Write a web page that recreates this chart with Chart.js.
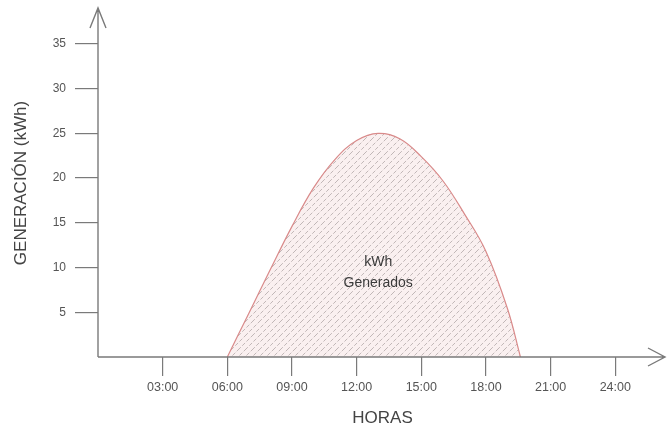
<!DOCTYPE html>
<html>
<head>
<meta charset="utf-8">
<script src="https://cdn.jsdelivr.net/npm/chart.js@4"></script>
<style>
  html, body { margin: 0; padding: 0; background: #fff; }
  #wrap { width: 667px; height: 433px; }
</style>
</head>
<body>
<div id="wrap"><canvas id="mainChart"></canvas></div>
<script>
// Hours of the day and generated energy (kWh)
const hours = [6, 7, 8, 9, 10, 11, 12, 13, 14, 15, 16, 17, 18, 19, 19.6];
const kwh = [0, 4.9, 9.8, 14.6, 18.9, 22.1, 24.2, 25, 24.4, 22.4, 19.7, 16.0, 11.8, 5.4, 0];

const yTicks = [5, 10, 15, 20, 25, 30, 35];
const xTicks = [3, 6, 9, 12, 15, 18, 21, 24];
const xTickLabels = ['03:00', '06:00', '09:00', '12:00', '15:00', '18:00', '21:00', '24:00'];

const areaLabel = ['kWh', 'Generados'];
const areaLabelAt = { x: 13, y: 9.5 };

const FONT = "'Liberation Sans', Arial, sans-serif";
const AXIS_COLOR = '#7a7a7a';

// hatch pattern for the area
function makeHatch() {
  const c = document.createElement('canvas');
  c.width = 14; c.height = 14;
  const g = c.getContext('2d');
  g.fillStyle = 'rgba(246, 226, 226, 0.5)';
  g.fillRect(0, 0, 14, 14);
  g.strokeStyle = 'rgba(130, 120, 120, 0.6)';
  g.lineWidth = 0.8;
  g.setLineDash([4, 2]);
  g.beginPath();
  for (let o = -14; o <= 14; o += 7) {
    g.moveTo(o, 14);
    g.lineTo(o + 14, 0);
  }
  g.stroke();
  return g.createPattern(c, 'repeat');
}

// axis lines with open arrowheads + text inside the area
const decorations = {
  id: 'decorations',
  afterDatasetsDraw(chart) {
    const { ctx, chartArea, scales } = chart;
    const x0 = scales.x.getPixelForValue(0);
    const y0 = scales.y.getPixelForValue(0);
    ctx.save();
    ctx.strokeStyle = AXIS_COLOR;
    ctx.lineWidth = 1.4;
    ctx.beginPath();
    ctx.moveTo(x0, y0);
    ctx.lineTo(x0, chartArea.top - 1);
    ctx.moveTo(x0, y0);
    ctx.lineTo(chartArea.right - 2, y0);
    // y arrow
    ctx.moveTo(x0 - 8, chartArea.top + 19);
    ctx.lineTo(x0, chartArea.top - 1);
    ctx.lineTo(x0 + 8, chartArea.top + 19);
    // x arrow
    ctx.moveTo(chartArea.right - 19, y0 - 9);
    ctx.lineTo(chartArea.right - 2, y0);
    ctx.lineTo(chartArea.right - 19, y0 + 9);
    ctx.stroke();

    ctx.fillStyle = '#3a3a3a';
    ctx.font = '14px ' + FONT;
    ctx.textAlign = 'center';
    ctx.textBaseline = 'middle';
    const lx = scales.x.getPixelForValue(areaLabelAt.x);
    const ly = scales.y.getPixelForValue(areaLabelAt.y);
    ctx.fillText(areaLabel[0], lx, ly - 10);
    ctx.fillText(areaLabel[1], lx, ly + 11);
    ctx.restore();
  }
};

const ctx = document.getElementById('mainChart').getContext('2d');

new Chart(ctx, {
  type: 'line',
  data: {
    datasets: [{
      data: hours.map((h, i) => ({ x: h, y: kwh[i] })),
      borderColor: '#d98a8a',
      borderWidth: 1.2,
      backgroundColor: makeHatch(),
      fill: 'origin',
      pointRadius: 0,
      tension: 0.4
    }]
  },
  options: {
    responsive: true,
    maintainAspectRatio: false,
    animation: false,
    layout: { padding: { top: 9, right: 0, left: 0, bottom: 0 } },
    plugins: {
      legend: { display: false },
      tooltip: { enabled: false }
    },
    scales: {
      x: {
        type: 'linear',
        min: 0,
        max: 26.4,
        afterFit: s => { s.height = 76; s.paddingLeft = 0; s.paddingRight = 0; },
        afterBuildTicks: s => { s.ticks = xTicks.map(v => ({ value: v })); },
        border: { display: false },
        grid: {
          drawOnChartArea: false,
          drawTicks: true,
          tickLength: 19,
          color: AXIS_COLOR,
          lineWidth: 1.2
        },
        ticks: {
          padding: 4,
          color: '#555',
          font: { family: FONT, size: 12.5 },
          maxRotation: 0,
          callback: v => xTickLabels[xTicks.indexOf(v)]
        },
        title: {
          display: true,
          text: 'HORAS',
          color: '#444',
          font: { family: FONT, size: 17 },
          padding: { top: 0, bottom: 4 }
        }
      },
      y: {
        min: 0,
        max: 38.9,
        afterFit: s => { s.width = 98; s.paddingTop = 0; s.paddingBottom = 0; },
        afterBuildTicks: s => { s.ticks = yTicks.map(v => ({ value: v })); },
        border: { display: false },
        grid: {
          drawOnChartArea: false,
          drawTicks: true,
          tickLength: 23,
          color: AXIS_COLOR,
          lineWidth: 1.2
        },
        ticks: {
          padding: 9,
          color: '#555',
          font: { family: FONT, size: 12 }
        },
        title: {
          display: true,
          text: 'GENERACIÓN (kWh)',
          color: '#444',
          font: { family: FONT, size: 17 },
          padding: { top: 11, bottom: 0 }
        }
      }
    }
  },
  plugins: [decorations]
});
</script>
</body>
</html>
